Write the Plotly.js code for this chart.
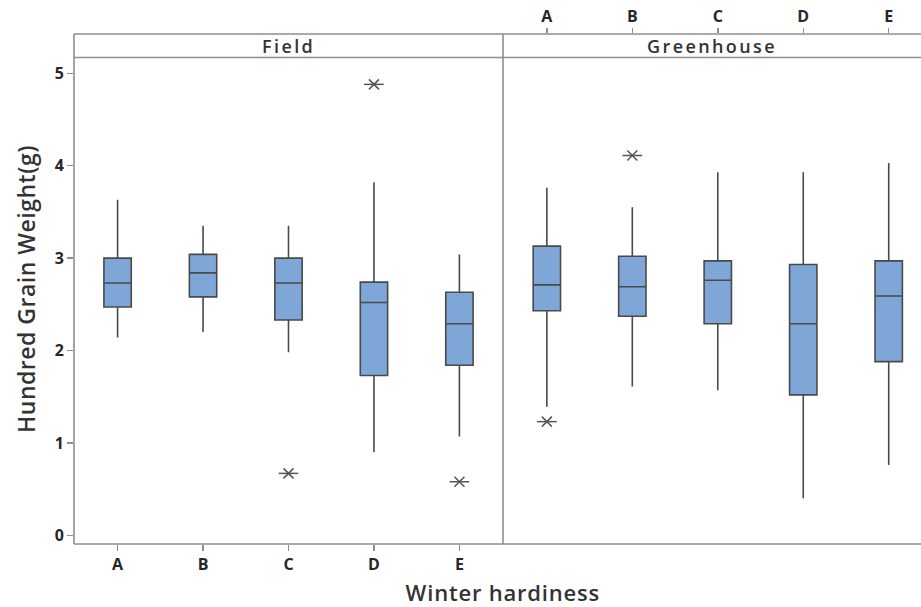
<!DOCTYPE html>
<html>
<head>
<meta charset="utf-8">
<script src="https://cdn.plot.ly/plotly-3.0.1.min.js"></script>
<style>
  html, body { margin: 0; padding: 0; background: #fff; overflow: hidden; }
  #wrap { width: 921px; height: 607px; overflow: hidden; }
  #chart { width: 940px; height: 607px; }
</style>
</head>
<body>
<div id="wrap"><div id="chart"></div></div>
<script>
// Winter hardiness classes
const categories = ['A', 'B', 'C', 'D', 'E'];

// Hundred grain weight (g) box summaries, Field environment
const fieldLowerWhisker = [2.14, 2.20, 1.98, 0.90, 1.07];
const fieldQ1           = [2.47, 2.58, 2.33, 1.73, 1.84];
const fieldMedian       = [2.73, 2.84, 2.73, 2.52, 2.29];
const fieldQ3           = [3.00, 3.04, 3.00, 2.74, 2.63];
const fieldUpperWhisker = [3.63, 3.35, 3.35, 3.82, 3.04];
const fieldOutlierCat   = ['C', 'D', 'E'];
const fieldOutlierVal   = [0.67, 4.88, 0.58];

// Hundred grain weight (g) box summaries, Greenhouse environment
const ghLowerWhisker = [1.39, 1.61, 1.57, 0.40, 0.76];
const ghQ1           = [2.43, 2.37, 2.29, 1.52, 1.88];
const ghMedian       = [2.71, 2.69, 2.76, 2.29, 2.59];
const ghQ3           = [3.13, 3.02, 2.97, 2.93, 2.97];
const ghUpperWhisker = [3.76, 3.55, 3.93, 3.93, 4.03];
const ghOutlierCat   = ['A', 'B'];
const ghOutlierVal   = [1.23, 4.11];

const panelNames = ['Field', 'Greenhouse'];

const boxFill = '#7ea7d8';
const boxLine = '#4a4a4a';
const frameColor = '#8e8e8e';
const textColor = '#262626';
const fontFamily = '"Open Sans", "Noto Sans", sans-serif';

// The figure runs a little past the visible 921px window so the
// Greenhouse panel continues off the right edge.
const W = 940, H = 607;
const mL = 74, mR = 0, mT = 34, mB = 63;
const plotW = W - mL - mR, plotH = H - mT - mB;
const splitX = (503 - mL) / plotW;          // divider between the panels
const stripBottom = (544 - 57.5) / plotH;    // lower edge of the header strip
const titleX = (503 - mL) / plotW;

function boxTrace(lo, q1, med, q3, hi, xa) {
  return {
    type: 'box',
    x: categories,
    lowerfence: lo, q1: q1, median: med, q3: q3, upperfence: hi,
    xaxis: xa, yaxis: 'y',
    width: 0.32,
    whiskerwidth: 0,
    fillcolor: boxFill,
    line: { color: boxLine, width: 1.6 },
    boxpoints: false,
    hoverinfo: 'skip',
    showlegend: false
  };
}

// outliers drawn as a six-armed asterisk: an "x" plus a horizontal bar
function outlierTraces(cats, vals, xa) {
  const common = { type: 'scatter', mode: 'markers', x: cats, y: vals, xaxis: xa, yaxis: 'y',
                   hoverinfo: 'skip', showlegend: false, cliponaxis: false };
  return [
    Object.assign({}, common, { marker: { symbol: 'x-thin-open', size: 10, color: '#555', line: { color: '#555', width: 1.5 } } }),
    Object.assign({}, common, { marker: { symbol: 'line-ew-open', size: 14, color: '#555', line: { color: '#555', width: 1.5 } } })
  ];
}

const data = [
  boxTrace(fieldLowerWhisker, fieldQ1, fieldMedian, fieldQ3, fieldUpperWhisker, 'x'),
  boxTrace(ghLowerWhisker, ghQ1, ghMedian, ghQ3, ghUpperWhisker, 'x2'),
  ...outlierTraces(fieldOutlierCat, fieldOutlierVal, 'x'),
  ...outlierTraces(ghOutlierCat, ghOutlierVal, 'x2')
];

const tickFont = { family: fontFamily, size: 16, color: textColor, weight: 'bold' };

const layout = {
  width: W, height: H,
  margin: { l: mL, r: mR, t: mT, b: mB },
  paper_bgcolor: '#fff',
  plot_bgcolor: '#fff',
  font: { family: fontFamily, color: textColor },
  showlegend: false,
  xaxis: {
    domain: [0, splitX],
    anchor: 'y',
    type: 'category',
    categoryorder: 'array', categoryarray: categories,
    range: [-0.51, 4.51],
    showline: false, showgrid: false, zeroline: false,
    ticks: 'outside', ticklen: 6, tickcolor: frameColor, tickwidth: 1.5,
    tickfont: tickFont,
    fixedrange: true
  },
  xaxis2: {
    domain: [splitX, 1],
    anchor: 'y', side: 'top',
    type: 'category',
    categoryorder: 'array', categoryarray: categories,
    range: [-0.513, 4.6],
    showline: false, showgrid: false, zeroline: false,
    ticks: 'outside', ticklen: 5, tickcolor: frameColor, tickwidth: 1.5,
    tickfont: tickFont,
    fixedrange: true
  },
  yaxis: {
    domain: [0, 1],
    range: [-0.094, 5.425],
    tickvals: [0, 1, 2, 3, 4, 5],
    showline: false, showgrid: false, zeroline: false,
    ticks: 'outside', ticklen: 6, tickcolor: frameColor, tickwidth: 1.5,
    tickfont: tickFont,
    title: { text: 'Hundred Grain Weight(g)', font: { family: fontFamily, size: 23, color: '#333', weight: 600 }, standoff: 12 },
    fixedrange: true
  },
  shapes: [
    // left frame edge
    { type: 'line', xref: 'paper', yref: 'paper', x0: 0, x1: 0, y0: 0, y1: 1, line: { color: frameColor, width: 1.6 } },
    // bottom frame edge
    { type: 'line', xref: 'paper', yref: 'paper', x0: 0, x1: 1, y0: 0, y1: 0, line: { color: frameColor, width: 1.6 } },
    // top of the header strip
    { type: 'line', xref: 'paper', yref: 'paper', x0: 0, x1: 1, y0: 1, y1: 1, line: { color: frameColor, width: 1.6 } },
    // bottom of the header strip
    { type: 'line', xref: 'paper', yref: 'paper', x0: 0, x1: 1, y0: stripBottom, y1: stripBottom, line: { color: frameColor, width: 1.6 } },
    // divider between panels
    { type: 'line', xref: 'paper', yref: 'paper', x0: splitX, x1: splitX, y0: 0, y1: 1, line: { color: frameColor, width: 1.6 } }
  ],
  annotations: [
    { text: panelNames[0], xref: 'paper', yref: 'paper', x: splitX / 2, y: (1 + stripBottom) / 2,
      xanchor: 'center', yanchor: 'middle', showarrow: false,
      font: { family: fontFamily, size: 18, color: '#333', weight: 600 } },
    { text: panelNames[1], xref: 'paper', yref: 'paper', x: (splitX + (921 - mL) / plotW) / 2, y: (1 + stripBottom) / 2,
      xanchor: 'center', yanchor: 'middle', showarrow: false,
      font: { family: fontFamily, size: 18, color: '#333', weight: 600 } },
    { text: 'Winter hardiness', xref: 'paper', yref: 'paper', x: titleX, y: 0, yshift: -48,
      xanchor: 'center', yanchor: 'middle', showarrow: false,
      font: { family: fontFamily, size: 22, color: '#333', weight: 600 } }
  ]
};

Plotly.newPlot('chart', data, layout, { staticPlot: true, displayModeBar: false }).then(function (gd) {
  // wider letter spacing for the panel headers, slight spacing for the axis titles
  const texts = gd.querySelectorAll('.annotation-text');
  for (let i = 0; i < texts.length; i++) {
    texts[i].style.letterSpacing = i < 2 ? '2.4px' : '0.8px';
  }
  const yTitle = gd.querySelector('.ytitle');
  if (yTitle) yTitle.style.letterSpacing = '0.5px';
});
</script>
</body>
</html>
